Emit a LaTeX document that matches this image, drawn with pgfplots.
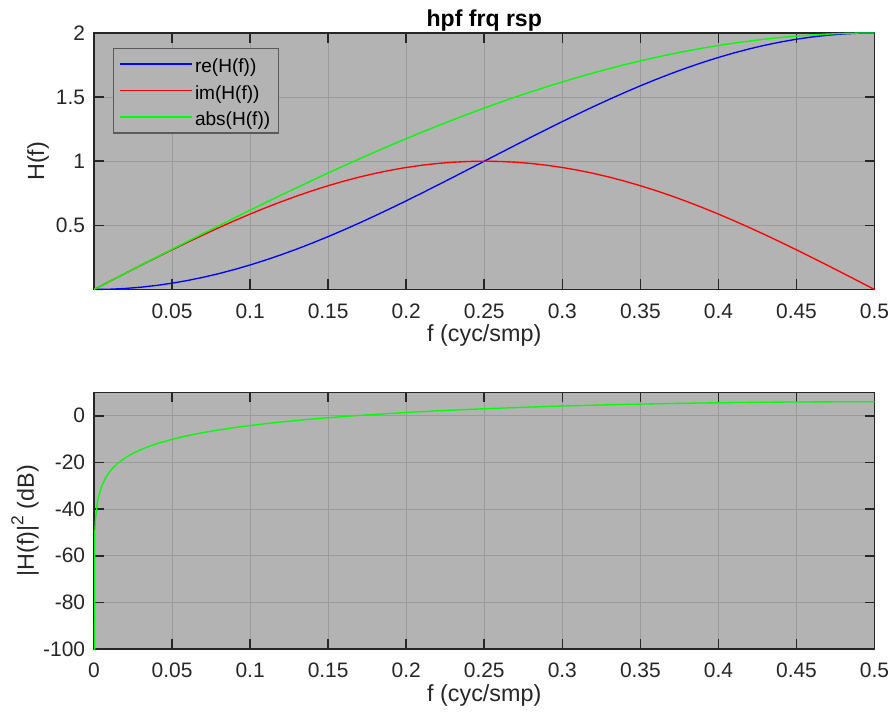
\documentclass[border=0pt]{standalone}
\usepackage{pgfplots}
\usepackage{pgfplotstable}
\usepackage{fontspec}
\setmainfont{Liberation Sans}
\pgfplotsset{compat=1.18}

\definecolor{bgc}{RGB}{179,179,179}
\definecolor{gridc}{RGB}{155,155,155}
\definecolor{axc}{RGB}{38,38,38}
\definecolor{legedge}{RGB}{90,90,90}

% frequency response of H(f) = 1 - exp(-j 2 pi f)
\pgfplotstableread{
f     re       im       abs
0.00  0        0        0
0.01  0.001973 0.062791 0.062822
0.02  0.007885 0.125333 0.125581
0.03  0.017713 0.187381 0.188217
0.04  0.031417 0.248690 0.250666
0.05  0.048943 0.309017 0.312869
0.06  0.070224 0.368125 0.374763
0.07  0.095173 0.425779 0.436286
0.08  0.123693 0.481754 0.497380
0.09  0.155672 0.535827 0.557983
0.10  0.190983 0.587785 0.618034
0.11  0.229487 0.637424 0.677476
0.12  0.271031 0.684547 0.736249
0.13  0.315453 0.728969 0.794297
0.14  0.362576 0.770513 0.851558
0.15  0.412215 0.809017 0.907981
0.16  0.464173 0.844328 0.963507
0.17  0.518246 0.876307 1.018083
0.18  0.574221 0.904827 1.071654
0.19  0.631875 0.929776 1.124167
0.20  0.690983 0.951057 1.175571
0.21  0.751310 0.968583 1.225814
0.22  0.812619 0.982287 1.274848
0.23  0.874667 0.992115 1.322624
0.24  0.937209 0.998027 1.369094
0.25  1.000000 1.000000 1.414214
0.26  1.062791 0.998027 1.457938
0.27  1.125333 0.992115 1.500222
0.28  1.187381 0.982287 1.541026
0.29  1.248690 0.968583 1.580310
0.30  1.309017 0.951057 1.618034
0.31  1.368125 0.929776 1.654163
0.32  1.425779 0.904827 1.688656
0.33  1.481754 0.876307 1.721484
0.34  1.535827 0.844328 1.752613
0.35  1.587785 0.809017 1.782013
0.36  1.637424 0.770513 1.809654
0.37  1.684547 0.728969 1.835510
0.38  1.728969 0.684547 1.859553
0.39  1.770513 0.637424 1.881761
0.40  1.809017 0.587785 1.902113
0.41  1.844328 0.535827 1.920589
0.42  1.876307 0.481754 1.937166
0.43  1.904827 0.425779 1.951834
0.44  1.929776 0.368125 1.964575
0.45  1.951057 0.309017 1.975377
0.46  1.968583 0.248690 1.984229
0.47  1.982287 0.187381 1.991124
0.48  1.992115 0.125333 1.996053
0.49  1.998027 0.062791 1.999013
0.50  2.000000 0        2.000000
}\Hresp

% power response in dB
\pgfplotstableread{
f      db
0      -313
0.0005 -50.06
0.001  -44.04
0.002  -38.02
0.003  -34.49
0.005  -30.06
0.0075 -26.54
0.01   -24.04
0.0125 -22.10
0.015  -20.52
0.02   -18.02
0.025  -16.09
0.03   -14.51
0.035  -13.17
0.04   -12.02
0.05   -10.09
0.06   -8.52
0.07   -7.20
0.08   -6.07
0.09   -5.07
0.10   -4.18
0.11   -3.38
0.12   -2.66
0.13   -2.00
0.14   -1.40
0.15   -0.84
0.16   -0.32
0.17   0.16
0.18   0.60
0.19   1.02
0.20   1.40
0.21   1.77
0.22   2.11
0.23   2.43
0.24   2.73
0.25   3.01
0.26   3.27
0.27   3.52
0.28   3.76
0.29   3.97
0.30   4.18
0.31   4.37
0.32   4.55
0.33   4.72
0.34   4.87
0.35   5.02
0.36   5.15
0.37   5.28
0.38   5.39
0.39   5.49
0.40   5.58
0.41   5.67
0.42   5.74
0.43   5.81
0.44   5.87
0.45   5.91
0.46   5.95
0.47   5.98
0.48   6.00
0.49   6.02
0.50   6.02
}\Hdb

\pgfplotsset{
  mlab/.style={
    scale only axis,
    width=585.4pt, height=192.4pt,
    xmin=0, xmax=0.5,
    axis background/.style={fill=bgc},
    axis line style={axc, line width=1.2pt},
    every tick/.style={axc, line width=1.2pt},
    tick align=inside,
    major tick length=7.5pt,
    xtick pos=both, ytick pos=both,
    grid=major,
    major grid style={gridc, line width=0.75pt},
    tick label style={font=\fontsize{15.7}{18}\selectfont, text=axc},
    xticklabel style={anchor=base, inner sep=0pt, yshift=-21.5pt},
    yticklabel style={anchor=east, inner sep=0pt, xshift=-6.5pt},
    label style={font=\fontsize{17.5}{20}\selectfont, text=axc},
    xlabel style={at={(rel axis cs:0.5,0)}, anchor=base, inner sep=0pt, yshift=-39pt},
    ylabel style={anchor=base, inner sep=0pt},
  }
}

\begin{document}
\begin{tikzpicture}
\path[use as bounding box] (0,0) rectangle (669pt,-537.75pt);

\begin{axis}[mlab,
  at={(70.5pt,-217.1pt)}, anchor=south west,
  ymin=0, ymax=2,
  xtick={0.05,0.1,0.15,0.2,0.25,0.3,0.35,0.4,0.45,0.5},
  xticklabels={0.05,0.1,0.15,0.2,0.25,0.3,0.35,0.4,0.45,0.5},
  ytick={0.5,1,1.5,2},
  yticklabels={0.5,1,1.5,2},
  clip=false,
  title={hpf frq rsp},
  title style={at={(rel axis cs:0.5,1)}, anchor=base, inner sep=0pt, yshift=-1pt,
    font=\fontsize{17.3}{20}\selectfont\bfseries},
  xlabel={f (cyc/smp)},
  ylabel={H(f)},
  ylabel style={at={(rel axis cs:-0.064,0.5)}},
  legend cell align=left,
  legend image code/.code={\draw[#1, line width=1.2pt] (0pt,0pt) -- (54pt,0pt);},
  legend style={at={(rel axis cs:0.024,0.943)}, anchor=north west,
    fill=bgc, draw=legedge, line width=1pt,
    font=\fontsize{14.3}{17}\selectfont, text=black,
    inner xsep=4pt, inner ysep=2pt, row sep=0pt,
    nodes={inner xsep=2pt, inner ysep=0pt, text height=16.2pt, text depth=3.7pt}},
]
\addplot[blue, line width=1pt] table[x=f, y=re] {\Hresp};
\addlegendentry{re(H(f))}
\addplot[red, line width=1pt] table[x=f, y=im] {\Hresp};
\addlegendentry{im(H(f))}
\addplot[green, line width=1pt] table[x=f, y=abs] {\Hresp};
\addlegendentry{abs(H(f))}
\end{axis}

\begin{axis}[mlab,
  at={(70.5pt,-486.75pt)}, anchor=south west,
  ymin=-100, ymax=10,
  xtick={0,0.05,0.1,0.15,0.2,0.25,0.3,0.35,0.4,0.45,0.5},
  xticklabels={0,0.05,0.1,0.15,0.2,0.25,0.3,0.35,0.4,0.45,0.5},
  ytick={-100,-80,-60,-40,-20,0},
  yticklabels={-100,-80,-60,-40,-20,0},
  xlabel={f (cyc/smp)},
  ylabel={|H(f)|\raisebox{0.45em}{\fontsize{13}{15}\selectfont 2} (dB)},
  ylabel style={at={(rel axis cs:-0.077,0.5)}},
]
\addplot[green, line width=1pt] table[x=f, y=db] {\Hdb};
\end{axis}
\end{tikzpicture}
\end{document}
